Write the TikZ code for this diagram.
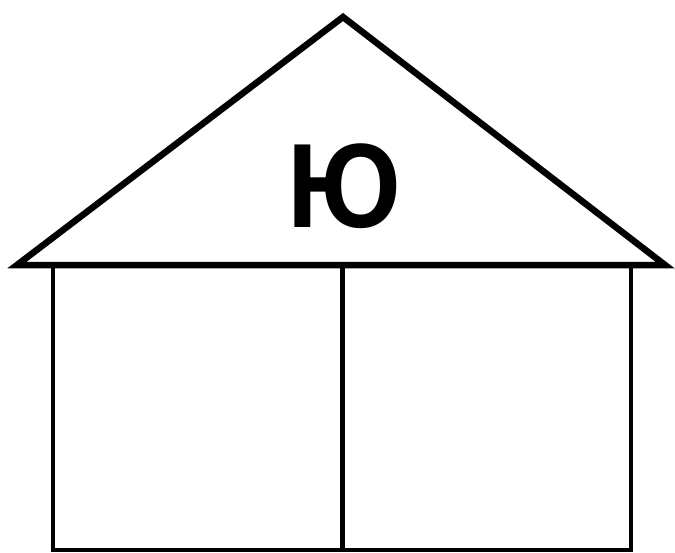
\documentclass[tikz,border=0pt]{standalone}
\usepackage{fontspec}
\setmainfont{Liberation Sans}
\begin{document}
\begin{tikzpicture}[x=1pt,y=-1pt,
  roofline/.style={line width=6.5pt,line join=miter,miter limit=20},
  wallline/.style={line width=4.5pt,line join=miter},
  letter/.style={font=\fontsize{120}{144}\selectfont\bfseries,inner sep=0pt,anchor=base}]
\useasboundingbox (0,0) rectangle (675,552);
\fill[white] (0,0) rectangle (675,552);
\draw[wallline] (53,265) -- (53,550) -- (631,550) -- (631,265);
\draw[wallline] (342.5,265) -- (342.5,550);
\draw[roofline] (17,265) -- (343,17) -- (665,265) -- cycle;
\node[letter] (lt) at (344,227) {\scalebox{0.92}[1]{Ю}};
\end{tikzpicture}
\end{document}
